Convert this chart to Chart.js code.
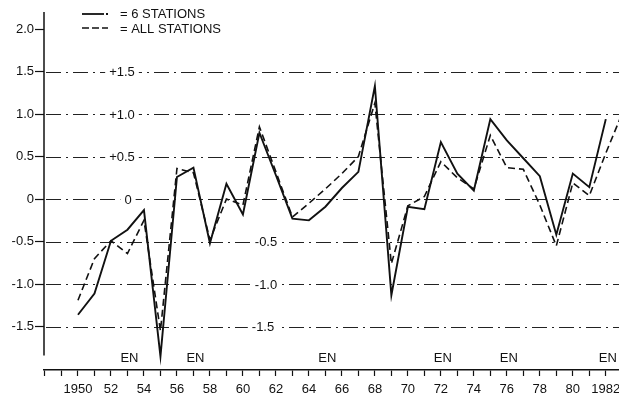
<!DOCTYPE html>
<html><head><meta charset="utf-8">
<script src="https://cdn.jsdelivr.net/npm/chart.js@4.4.1/dist/chart.umd.min.js"></script>
<style>html,body{margin:0;padding:0;background:#fff}#wrap{width:619px;height:399px;position:relative}</style>
</head><body><div id="wrap"><canvas id="c" width="619" height="399"></canvas></div>
<script>
const years = [1950,1951,1952,1953,1954,1955,1956,1957,1958,1959,1960,1961,1962,1963,1964,1965,1966,1967,1968,1969,1970,1971,1972,1973,1974,1975,1976,1977,1978,1979,1980,1981,1982,1983];
const sixStations = [-1.36,-1.11,-0.49,-0.36,-0.13,-1.85,0.26,0.37,-0.52,0.18,-0.18,0.78,0.28,-0.23,-0.25,-0.09,0.13,0.32,1.33,-1.13,-0.09,-0.12,0.67,0.30,0.10,0.94,0.69,0.48,0.27,-0.42,0.30,0.14,0.94,null];
const allStations = [-1.19,-0.70,-0.49,-0.64,-0.25,-1.55,0.36,0.31,-0.48,0.00,-0.07,0.85,0.32,-0.21,-0.05,0.12,0.30,0.50,1.13,-0.76,-0.08,0.03,0.44,0.25,0.12,0.75,0.37,0.35,-0.07,-0.55,0.19,0.04,0.54,1.01];
const yTickValues = [2.0,1.5,1.0,0.5,0,-0.5,-1.0,-1.5];
const xTickYears = [1948,1949,1950,1951,1952,1953,1954,1955,1956,1957,1958,1959,1960,1961,1962,1963,1964,1965,1966,1967,1968,1969,1970,1971,1972,1973,1974,1975,1976,1977,1978,1979,1980,1981,1982];
const xTickLabels = {1950:'1950',1952:'52',1954:'54',1956:'56',1958:'58',1960:'60',1962:'62',1964:'64',1966:'66',1968:'68',1970:'70',1972:'72',1974:'74',1976:'76',1978:'78',1980:'80',1982:'1982'};
const gridValues = [1.5,1.0,0.5,0,-0.5,-1.0,-1.5];
const gridLabels = ['+1.5','+1.0','+0.5','0','-0.5','-1.0','-1.5'];
const enYears = [1953,1957,1965,1972,1976,1982];
const enLabel = 'EN';
const legendLabels = ['= 6 STATIONS','= ALL STATIONS'];

const FONT = '"Liberation Sans", Arial, sans-serif';
const INK = '#111';
const gridLabelX = [122,122,122,128,266,266,263];

const deco = {
  id:'deco',
  beforeDatasetsDraw(chart){
    const ctx = chart.ctx, y = chart.scales.y, ca = chart.chartArea;
    ctx.save();
    ctx.strokeStyle = INK; ctx.lineWidth = 1.5;
    ctx.beginPath(); ctx.moveTo(ca.left, y.getPixelForValue(2.2)); ctx.lineTo(ca.left, y.getPixelForValue(-1.84)); ctx.stroke();
    ctx.lineWidth = 1.2; ctx.strokeStyle = '#222';
    ctx.setLineDash([15,5,2,5]);
    gridValues.forEach(v=>{
      const py = Math.round(y.getPixelForValue(v))+0.5;
      ctx.beginPath(); ctx.moveTo(ca.left+2, py); ctx.lineTo(ca.right, py); ctx.stroke();
    });
    ctx.setLineDash([]);
    ctx.font = '13px '+FONT; ctx.textAlign='center'; ctx.textBaseline='middle';
    gridValues.forEach((v,i)=>{
      const py = y.getPixelForValue(v);
      const w = ctx.measureText(gridLabels[i]).width;
      ctx.fillStyle='#fff'; ctx.fillRect(gridLabelX[i]-w/2-4, py-5, w+8, 10);
      ctx.fillStyle=INK; ctx.fillText(gridLabels[i], gridLabelX[i], py+1);
    });
    ctx.restore();
  },
  afterDraw(chart){
    const ctx = chart.ctx, x = chart.scales.x;
    ctx.save();
    ctx.fillStyle = INK; ctx.strokeStyle = INK;
    ctx.font = '13px '+FONT; ctx.textAlign='center'; ctx.textBaseline='middle';
    enYears.forEach(yr=>{ ctx.fillText(enLabel, x.getPixelForValue(yr)+2, 358); });
    ctx.lineWidth = 1.8;
    ctx.beginPath(); ctx.moveTo(82,14); ctx.lineTo(104,14); ctx.stroke();
    ctx.beginPath(); ctx.moveTo(106,14); ctx.lineTo(108,14); ctx.stroke();
    ctx.lineWidth = 1.6; ctx.setLineDash([7,3]);
    ctx.beginPath(); ctx.moveTo(82,28); ctx.lineTo(108,28); ctx.stroke();
    ctx.setLineDash([]);
    ctx.textAlign='left';
    ctx.fillText(legendLabels[0], 120, 14);
    ctx.fillText(legendLabels[1], 120, 29);
    ctx.restore();
  }
};

new Chart(document.getElementById('c'), {
  type:'line',
  data:{
    datasets:[
      {label:'6 STATIONS', data: years.map((yr,i)=>({x:yr,y:sixStations[i]})), borderColor:INK, borderWidth:1.9, pointRadius:0, tension:0, fill:false, spanGaps:false},
      {label:'ALL STATIONS', data: years.map((yr,i)=>({x:yr,y:allStations[i]})), borderColor:INK, borderWidth:1.6, borderDash:[7,4], pointRadius:0, tension:0, fill:false}
    ]
  },
  options:{
    responsive:false, animation:false, devicePixelRatio:1,
    layout:{padding:{top:12,left:0,right:0,bottom:0}},
    plugins:{legend:{display:false}, tooltip:{enabled:false}},
    scales:{
      x:{
        type:'linear', position:'bottom', min:1947.94, max:1982.8,
        grid:{drawOnChartArea:false, tickLength:6, color:INK, tickWidth:1.2},
        border:{display:true, color:INK, width:1.5},
        ticks:{font:{family:FONT,size:13}, color:INK, padding:6, autoSkip:false, maxRotation:0,
          callback:(v)=> xTickLabels[v] || ''},
        afterBuildTicks(s){ s.ticks = xTickYears.map(v=>({value:v})); },
        afterFit(s){ s.height = 29; s.paddingLeft=0; s.paddingRight=0; }
      },
      y:{
        type:'linear', min:-2.01, max:2.2,
        grid:{drawOnChartArea:false, tickLength:9, color:INK, tickWidth:1.2},
        border:{display:false},
        ticks:{font:{family:FONT,size:13}, color:INK, padding:1,
          callback:(v)=> v===0 ? '0' : v.toFixed(1)},
        afterBuildTicks(s){ s.ticks = yTickValues.map(v=>({value:v})); },
        afterFit(s){ s.width = 44; s.paddingTop=0; s.paddingBottom=0; }
      }
    }
  },
  plugins:[deco]
});
</script>
</body></html>
